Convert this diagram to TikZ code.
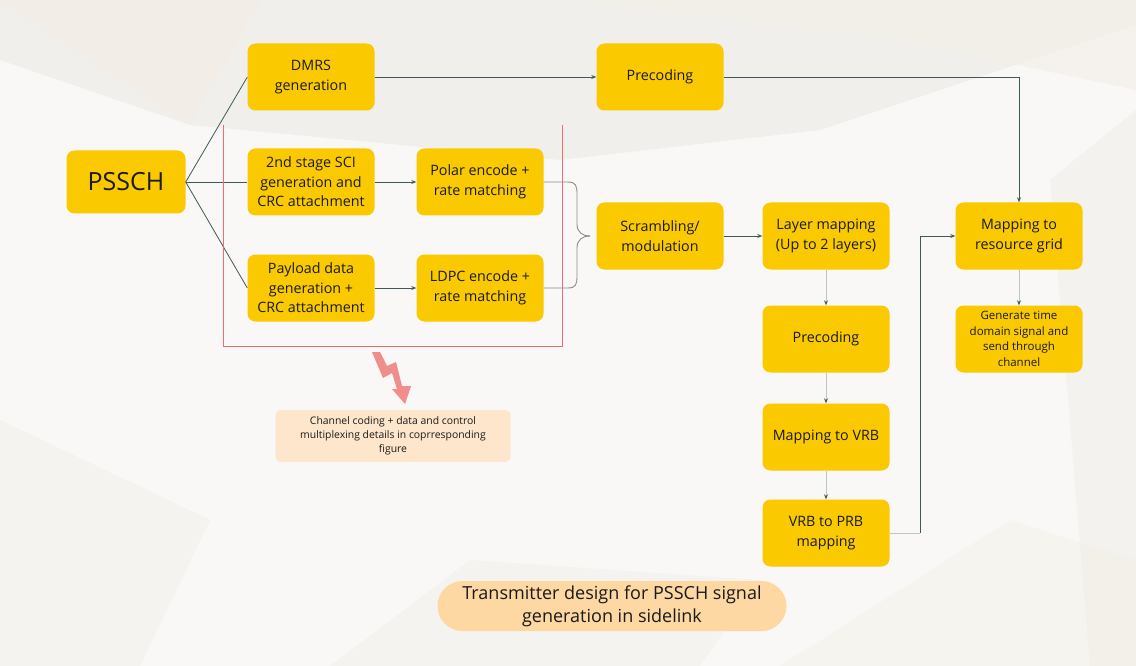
\documentclass[tikz,border=0pt]{standalone}
\usepackage{fontspec}
\setmainfont{Open Sans}
\usetikzlibrary{arrows.meta}

\definecolor{bg}{HTML}{F9F8F6}
\definecolor{shadeA}{HTML}{EDEAE4}
\definecolor{shadeB}{HTML}{F3EEE6}
\definecolor{boxfill}{HTML}{FAC900}
\definecolor{wire}{HTML}{3C5A5A}
\definecolor{softwire}{HTML}{BCC6C6}
\definecolor{bracegray}{HTML}{8A8A8A}
\definecolor{framered}{HTML}{EE6E6E}
\definecolor{notefill}{HTML}{FDE6CB}
\definecolor{capfill}{HTML}{FDD8A2}
\definecolor{bolt}{HTML}{EF8E8B}
\definecolor{ink}{HTML}{1A1A1A}

\tikzset{
  blk/.style={fill=boxfill, rounded corners=8pt, minimum width=127pt, minimum height=67pt,
    align=center, text=ink, font=\fontsize{14.3}{19.5}\selectfont, inner sep=2pt},
  smallblk/.style={blk, font=\fontsize{11.5}{15.5}\selectfont},
  wireline/.style={wire, line width=0.8pt},
  flow/.style={wireline, -{Stealth[length=5pt,width=4pt]}},
  softflow/.style={softwire, line width=1pt, -{Stealth[length=5pt,width=4pt,color=wire]}},
  bracestroke/.style={bracegray, line width=0.9pt},
  redframe/.style={framered, line width=0.9pt},
  notebox/.style={fill=notefill, rounded corners=5pt, minimum width=235pt, minimum height=52pt,
    align=center, text=ink, font=\fontsize{10.4}{14}\selectfont},
  capbox/.style={fill=capfill, rounded corners=25pt, minimum width=349pt, minimum height=50pt,
    align=center, text=ink, font=\fontsize{18}{23}\selectfont}
}

\begin{document}
\begin{tikzpicture}[x=1pt,y=-1pt]
  % canvas
  \useasboundingbox (0,0) rectangle (1136,666);
  \fill[bg] (0,0) rectangle (1136,666);

  % faint low-poly backdrop
  \fill[shadeA, opacity=0.6] (0,0) -- (1136,0) -- (1136,25) -- (820,130) -- (560,160) -- (190,125) -- (0,60) -- cycle;
  \fill[shadeB, opacity=0.7] (0,0) -- (260,0) -- (190,125) -- cycle;
  \fill[shadeB, opacity=0.5] (560,0) -- (1136,0) -- (1136,90) -- (900,40) -- cycle;
  \fill[shadeA, opacity=0.4] (1050,180) -- (1136,110) -- (1136,666) -- (1090,666) -- cycle;
  \fill[shadeA, opacity=0.35] (0,420) -- (210,520) -- (140,666) -- (0,666) -- cycle;
  \fill[shadeB, opacity=0.4] (780,666) -- (1010,520) -- (1136,560) -- (1136,666) -- cycle;
  \fill[shadeA, opacity=0.3] (330,666) -- (470,560) -- (760,580) -- (700,666) -- cycle;

  % process blocks
  \node[blk, font=\fontsize{25}{30}\selectfont, minimum width=119pt, minimum height=63pt] (pssch) at (126,182) {PSSCH};
  \node[blk] (dmrs)  at (311,77)  {DMRS\\generation};
  \node[blk] (sci)   at (311,182) {2nd stage SCI\\generation and\\CRC attachment};
  \node[blk] (pay)   at (311,288) {Payload data\\generation +\\CRC attachment};
  \node[blk] (polar) at (480,182) {Polar encode +\\rate matching};
  \node[blk] (ldpc)  at (480,288) {LDPC encode +\\rate matching};
  \node[blk] (prectop) at (660,77) {Precoding};
  \node[blk] (scr)   at (660,236) {Scrambling/\\modulation};
  \node[blk] (layer) at (826,236) {Layer mapping\\(Up to 2 layers)};
  \node[blk] (precmid) at (826,339) {Precoding};
  \node[blk] (vrb)   at (826,437) {Mapping to VRB};
  \node[blk] (prb)   at (826,533) {VRB to PRB\\mapping};
  \node[blk] (grid)  at (1019,236) {Mapping to\\resource grid};
  \node[smallblk] (gen) at (1019,339) {Generate time\\domain signal and\\send through\\channel};

  % notes
  \node[notebox] (note) at (393,436) {Channel coding + data and control\\multiplexing details in coprresponding\\figure};
  \node[capbox] (cap) at (612,606) {Transmitter design for PSSCH signal\\generation in sidelink};

  % fan-out from the channel
  \draw[wireline] (pssch.east) -- (dmrs.west);
  \draw[wireline] (pssch.east) -- (sci.west);
  \draw[wireline] (pssch.east) -- (pay.west);

  % main flow
  \draw[flow] (sci) -- (polar);
  \draw[flow] (pay) -- (ldpc);
  \draw[flow] (dmrs) -- (prectop);
  \draw[flow] (prectop.east) -| (grid.north);
  \draw[flow] (scr) -- (layer);
  \draw[softflow] (layer) -- (precmid);
  \draw[softflow] (precmid) -- (vrb);
  \draw[softflow] (vrb) -- (prb);
  \draw[softflow] (grid) -- (gen);
  \coordinate (turn) at (920,533);
  \draw[softwire, line width=1pt] (prb.east) -- (turn);
  \draw[flow] (turn) |- (grid.west);

  % brace merging the two coded streams
  \coordinate (brtip) at (590,236);
  \draw[bracestroke] (polar.east) -- (568,182) .. controls (576,182) and (577,186) .. (577,194)
    -- (577,224) .. controls (577,232) and (582,236) .. (brtip);
  \draw[bracestroke] (ldpc.east) -- (568,288) .. controls (576,288) and (577,284) .. (577,276)
    -- (577,248) .. controls (577,240) and (582,236) .. (brtip);

  % channel-coding frame
  \coordinate (fa) at (223,125);
  \coordinate (fb) at (223,346);
  \coordinate (fc) at (562,346);
  \coordinate (fd) at (562,125);
  \draw[redframe] (fa) -- (fb) -- (fc) -- (fd);

  % zig-zag pointer to the note
  \fill[bolt] (372,352) -- (380,352) -- (387,366) -- (396,362) -- (402,386) -- (411,386)
    -- (405,404) -- (392,389) -- (397,389) -- (392,373) -- (383,378) -- cycle;
\end{tikzpicture}
\end{document}
